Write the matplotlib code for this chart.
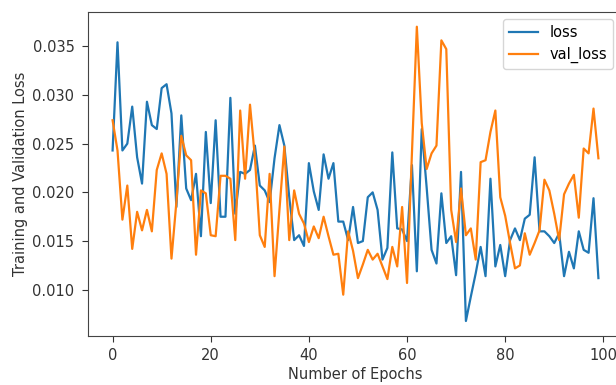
import matplotlib
matplotlib.use("Agg")
import matplotlib.pyplot as plt
import numpy as np

epochs = list(range(100))

loss = [0.0243, 0.0354, 0.0243, 0.0250, 0.0288, 0.0236, 0.0209, 0.0293, 0.0269, 0.0265,
        0.0307, 0.0311, 0.0281, 0.0185, 0.0279, 0.0204, 0.0192, 0.0219, 0.0155, 0.0262,
        0.0189, 0.0274, 0.0175, 0.0175, 0.0297, 0.0178, 0.0221, 0.0219, 0.0223, 0.0248,
        0.0207, 0.0202, 0.0190, 0.0235, 0.0269, 0.0248, 0.0195, 0.0151, 0.0156, 0.0145,
        0.0230, 0.0201, 0.0182, 0.0239, 0.0214, 0.0230, 0.0170, 0.0170, 0.0151, 0.0185,
        0.0148, 0.0150, 0.0195, 0.0200, 0.0182, 0.0131, 0.0143, 0.0241, 0.0163, 0.0162,
        0.0150, 0.0228, 0.0119, 0.0265, 0.0205, 0.0141, 0.0127, 0.0199, 0.0148, 0.0155,
        0.0115, 0.0221, 0.0068, 0.0093, 0.0117, 0.0144, 0.0114, 0.0214, 0.0124, 0.0146,
        0.0114, 0.0151, 0.0163, 0.0151, 0.0173, 0.0177, 0.0236, 0.0160, 0.0160, 0.0155,
        0.0148, 0.0158, 0.0114, 0.0139, 0.0122, 0.0160, 0.0141, 0.0138, 0.0194, 0.0112]

val_loss = [0.0274, 0.0243, 0.0172, 0.0207, 0.0142, 0.0180, 0.0161, 0.0182, 0.0160, 0.0223,
            0.0240, 0.0219, 0.0132, 0.0190, 0.0258, 0.0238, 0.0233, 0.0136, 0.0202, 0.0199,
            0.0156, 0.0155, 0.0217, 0.0217, 0.0214, 0.0151, 0.0284, 0.0214, 0.0290, 0.0236,
            0.0156, 0.0144, 0.0219, 0.0114, 0.0182, 0.0247, 0.0151, 0.0202, 0.0178, 0.0168,
            0.0149, 0.0165, 0.0153, 0.0175, 0.0155, 0.0136, 0.0137, 0.0095, 0.0160, 0.0140,
            0.0112, 0.0126, 0.0141, 0.0131, 0.0137, 0.0124, 0.0111, 0.0144, 0.0124, 0.0185,
            0.0107, 0.0240, 0.0370, 0.0271, 0.0224, 0.0240, 0.0248, 0.0356, 0.0347, 0.0182,
            0.0149, 0.0204, 0.0156, 0.0163, 0.0131, 0.0231, 0.0233, 0.0262, 0.0284, 0.0195,
            0.0176, 0.0148, 0.0122, 0.0125, 0.0158, 0.0136, 0.0148, 0.0161, 0.0213, 0.0202,
            0.0178, 0.0151, 0.0198, 0.0209, 0.0218, 0.0174, 0.0245, 0.0240, 0.0286, 0.0235]

x_ticks = [0, 20, 40, 60, 80, 100]
y_ticks = [0.010, 0.015, 0.020, 0.025, 0.030, 0.035]

W, H = 616, 385
fig = plt.figure(figsize=(W / 100, H / 100), dpi=100)
left, right, top, bottom = 88.3, 622.7, 12.0, 335.7
ax = fig.add_axes([left / W, (H - bottom) / H, (right - left) / W, (bottom - top) / H])

ax.plot(epochs, loss, color="#1f77b4", lw=1.6, label="loss")
ax.plot(epochs, val_loss, color="#ff7f0e", lw=1.6, label="val_loss")

ax.set_xticks(x_ticks)
ax.set_yticks(y_ticks)
ax.set_yticklabels([f"{v:.3f}" for v in y_ticks])
ax.tick_params(labelsize=10.5, colors="#333333", length=4.5)
ax.tick_params(axis="y", pad=5.5)
ax.tick_params(axis="x", pad=4.5)
for s in ax.spines.values():
    s.set_color("#444444")

ax.set_xlabel("Number of Epochs", fontsize=10.5, color="#333333", labelpad=3)
ax.set_ylabel("Training and Validation Loss", fontsize=10.5, color="#333333", labelpad=3)

ax.legend(loc="upper right", bbox_to_anchor=(613 / W, (H - 19) / H),
          bbox_transform=fig.transFigure, borderaxespad=0, fontsize=10.5)

fig.savefig("out.png", dpi=100)
